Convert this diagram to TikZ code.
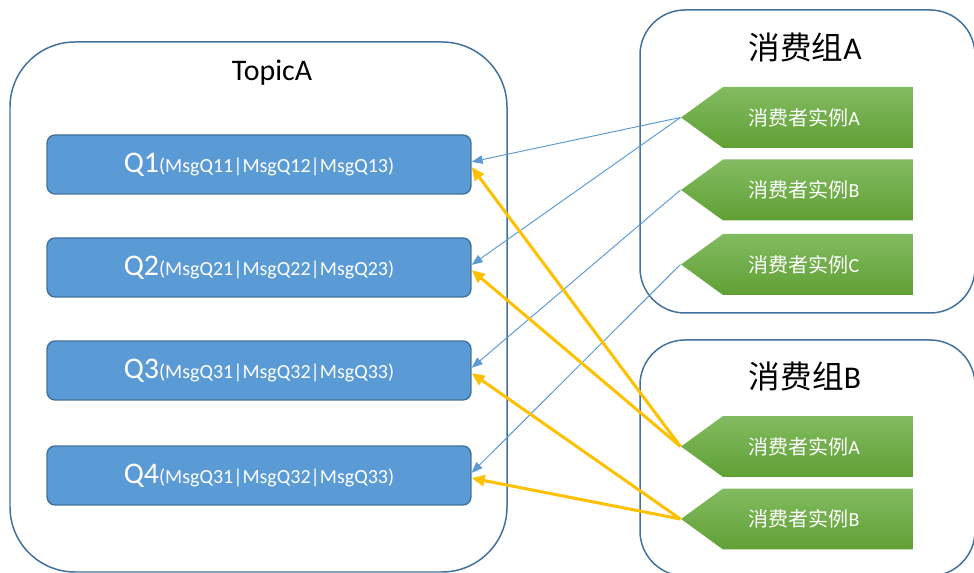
\documentclass[tikz,border=0pt]{standalone}
\usepackage{fontspec}
\setmainfont{Carlito}
\newfontfamily\cjk{Noto Sans CJK SC}
\usetikzlibrary{arrows.meta,shapes.symbols}

\definecolor{frame}{RGB}{65,113,156}
\definecolor{qblue}{RGB}{91,155,213}
\definecolor{gtop}{RGB}{130,187,97}
\definecolor{gbot}{RGB}{96,160,52}
\definecolor{gold}{RGB}{255,192,0}

\tikzset{
  group/.style={draw=frame,line width=0.85pt},
  queue/.style={draw=frame,fill=qblue,line width=0.8pt,rounded corners=0.16cm,
    minimum width=8.48cm,minimum height=1.18cm,text=white},
  member/.style={signal,signal to=west,signal from=nowhere,signal pointer angle=72,
    top color=gtop,bottom color=gbot,minimum width=4.64cm,minimum height=1.22cm,
    inner sep=0pt,text=white,font=\fontsize{11.4}{13}\selectfont},
  bind/.style={draw=qblue,line width=0.55pt,-{Triangle[length=0.22cm,width=0.17cm]}},
  pull/.style={draw=gold,line width=1.7pt,-{Triangle[length=0.26cm,width=0.22cm]}}
}

\newcommand{\qtext}[2]{{\fontsize{17}{20}\selectfont #1}{\fontsize{11.4}{13}\selectfont(#2)}}
\newcommand{\inst}[1]{{\cjk 消费者实例}#1\hspace*{0.56cm}}

\begin{document}
\begin{tikzpicture}[x=0.02cm,y=-0.02cm]
    \useasboundingbox (0,0) rectangle (974,573);
    % Cornici
    \draw[group,rounded corners=1.3cm] (10,42) rectangle (507,572);
    \draw[group,rounded corners=0.9cm] (640,10) rectangle (975,313);
    \draw[group,rounded corners=0.9cm] (640,340) rectangle (975,576);

    \node (topic) at (272,73) {\fontsize{17}{20}\selectfont TopicA};
    \node (grpA) at (805,47) {\fontsize{18}{21}\selectfont{\cjk 消费组}A};
    \node (grpB) at (805,376) {\fontsize{18}{21}\selectfont{\cjk 消费组}B};

    % Code
    \node[queue] (q1) at (259,164.5) {\qtext{Q1}{MsgQ11|MsgQ12|MsgQ13}};
    \node[queue] (q2) at (259,267.5) {\qtext{Q2}{MsgQ21|MsgQ22|MsgQ23}};
    \node[queue] (q3) at (259,370.5) {\qtext{Q3}{MsgQ31|MsgQ32|MsgQ33}};
    \node[queue] (q4) at (259,475.5) {\qtext{Q4}{MsgQ31|MsgQ32|MsgQ33}};

    % Consumatori
    \node[member] (a1) at (818,117.5) {\inst{A}};
    \node[member] (a2) at (818,190) {\inst{B}};
    \node[member] (a3) at (818,264.5) {\inst{C}};
    \node[member] (b1) at (818,446.5) {\inst{A}};
    \node[member] (b2) at (818,519) {\inst{B}};

    % Frecce
    \draw[bind] (a1.west) -- ([yshift=1.5pt]q1.east);
    \draw[bind] (a1.west) -- ([yshift=1.5pt]q2.east);
    \draw[bind] (a2.west) -- ([yshift=1.5pt]q3.east);
    \draw[bind] (a3.west) -- ([yshift=1.5pt]q4.east);
    \draw[pull] (b1.west) -- ([yshift=-1.5pt]q1.east);
    \draw[pull] (b1.west) -- ([yshift=-1.5pt]q2.east);
    \draw[pull] (b2.west) -- ([yshift=-1.5pt]q3.east);
    \draw[pull] (b2.west) -- ([yshift=-1.5pt]q4.east);
\end{tikzpicture}
\end{document}
